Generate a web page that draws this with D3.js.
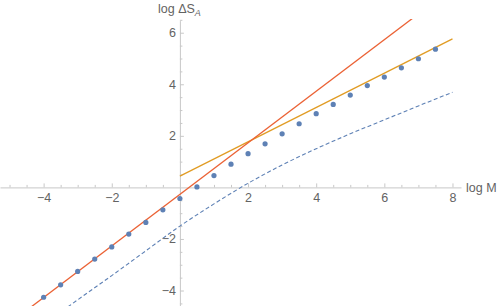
<!DOCTYPE html>
<html><head><meta charset="utf-8">
<script src="https://cdn.jsdelivr.net/npm/d3@7"></script>
<style>body{margin:0;background:#fff}svg{display:block;font-family:"Liberation Sans",Arial,sans-serif}</style>
</head><body><svg id="c" width="498" height="306"></svg>
<script>
// data
const pointX = [-4,-3.5,-3,-2.5,-2,-1.5,-1,-0.5,0,0.5,1,1.5,2,2.5,3,3.5,4,4.5,5,5.5,6,6.5,7,7.5];
const pointY = [-4.26,-3.78,-3.26,-2.78,-2.31,-1.81,-1.36,-0.87,-0.43,0.02,0.46,0.90,1.31,1.69,2.08,2.47,2.86,3.22,3.58,3.95,4.28,4.64,4.99,5.36];
const redX = [-5.3, 8];          // y = x - 0.27
const redY = [-5.57, 7.73];
const orangeX = [0, 8];          // y ≈ 0.665 x + 0.44
const orangeY = [0.44, 5.76];
const dashX = [-3.6,-3,-2,-1,0,1,2,3,4,5,6,7,8];
const dashY = [-4.93,-4.36,-3.42,-2.46,-1.50,-0.64,0.16,0.87,1.50,2.08,2.62,3.16,3.69];
const xMajor = [-4,-2,2,4,6,8];
const yMajor = [-4,-2,2,4,6];
const xLabel = "log M";
const yLabel = ["log ΔS", "A"];

const svg = d3.select("#c");
const x = d3.scaleLinear().domain([-5.28, 8.25]).range([0, 461]);
const y = d3.scaleLinear().domain([-4.6, 6.47]).range([306, 20.6]);
const x0 = x(0), y0 = y(0);
const axisCol = "#c8c8c8", textCol = "#636363";

// minor ticks
const xMinor = d3.range(-5, 8.01, 0.5).filter(v => !xMajor.includes(v) && v !== 0);
const yMinor = d3.range(-4.5, 6.51, 0.5).filter(v => !yMajor.includes(v) && v !== 0);

function styleAxis(g){
  g.select(".domain").attr("stroke", axisCol).attr("stroke-width", 1);
  g.selectAll(".tick line").attr("stroke", axisCol);
  g.selectAll("text").attr("fill", textCol).style("font-size", "12.5px").style("font-family", '"Liberation Sans",Arial,sans-serif');
}
const fmt = d => (d < 0 ? "\u2212" + Math.abs(d) : String(d));

const gx = svg.append("g").attr("transform", `translate(0,${y0})`)
  .call(d3.axisBottom(x).tickValues(xMajor).tickFormat(fmt).tickSizeInner(-4).tickSizeOuter(0).tickPadding(6));
styleAxis(gx);
const gxm = svg.append("g").attr("transform", `translate(0,${y0})`)
  .call(d3.axisBottom(x).tickValues(xMinor).tickFormat("").tickSizeInner(-2.5).tickSizeOuter(0));
styleAxis(gxm); gxm.select(".domain").remove();

const gy = svg.append("g").attr("transform", `translate(${x0},0)`)
  .call(d3.axisLeft(y).tickValues(yMajor).tickFormat(fmt).tickSizeInner(-4).tickSizeOuter(0).tickPadding(4));
styleAxis(gy);
const gym = svg.append("g").attr("transform", `translate(${x0},0)`)
  .call(d3.axisLeft(y).tickValues(yMinor).tickFormat("").tickSizeInner(-2.5).tickSizeOuter(0));
styleAxis(gym); gym.select(".domain").remove();

// labels
svg.append("text").attr("x", 466).attr("y", y0 + 4.5).attr("fill", textCol)
  .style("font-size", "12.5px").text(xLabel);
const yl = svg.append("text").attr("x", 158).attr("y", 13).attr("fill", textCol).style("font-size", "12.5px");
yl.append("tspan").text(yLabel[0]);
yl.append("tspan").attr("dy", 3).style("font-size", "9px").style("font-style", "italic").text(yLabel[1]);

// clip
svg.append("clipPath").attr("id", "clip").append("rect")
  .attr("x", 0).attr("y", 19).attr("width", 498).attr("height", 287);
const plot = svg.append("g").attr("clip-path", "url(#clip)");

const line = d3.line().x(d => x(d[0])).y(d => y(d[1]));
plot.append("path").datum(d3.zip(dashX, dashY)).attr("fill", "none")
  .attr("stroke", "#5E81B5").attr("stroke-width", 1.1).attr("stroke-dasharray", "4,2.5")
  .attr("d", line.curve(d3.curveMonotoneX));
plot.append("path").datum(d3.zip(orangeX, orangeY)).attr("fill", "none")
  .attr("stroke", "#E19C24").attr("stroke-width", 1.3).attr("d", d3.line().x(d => x(d[0])).y(d => y(d[1])));
plot.append("path").datum(d3.zip(redX, redY)).attr("fill", "none")
  .attr("stroke", "#EB6235").attr("stroke-width", 1.3).attr("d", d3.line().x(d => x(d[0])).y(d => y(d[1])));
plot.selectAll("circle").data(d3.zip(pointX, pointY)).join("circle")
  .attr("cx", d => x(d[0])).attr("cy", d => y(d[1])).attr("r", 2.6).attr("fill", "#5E81B5");
</script></body></html>
